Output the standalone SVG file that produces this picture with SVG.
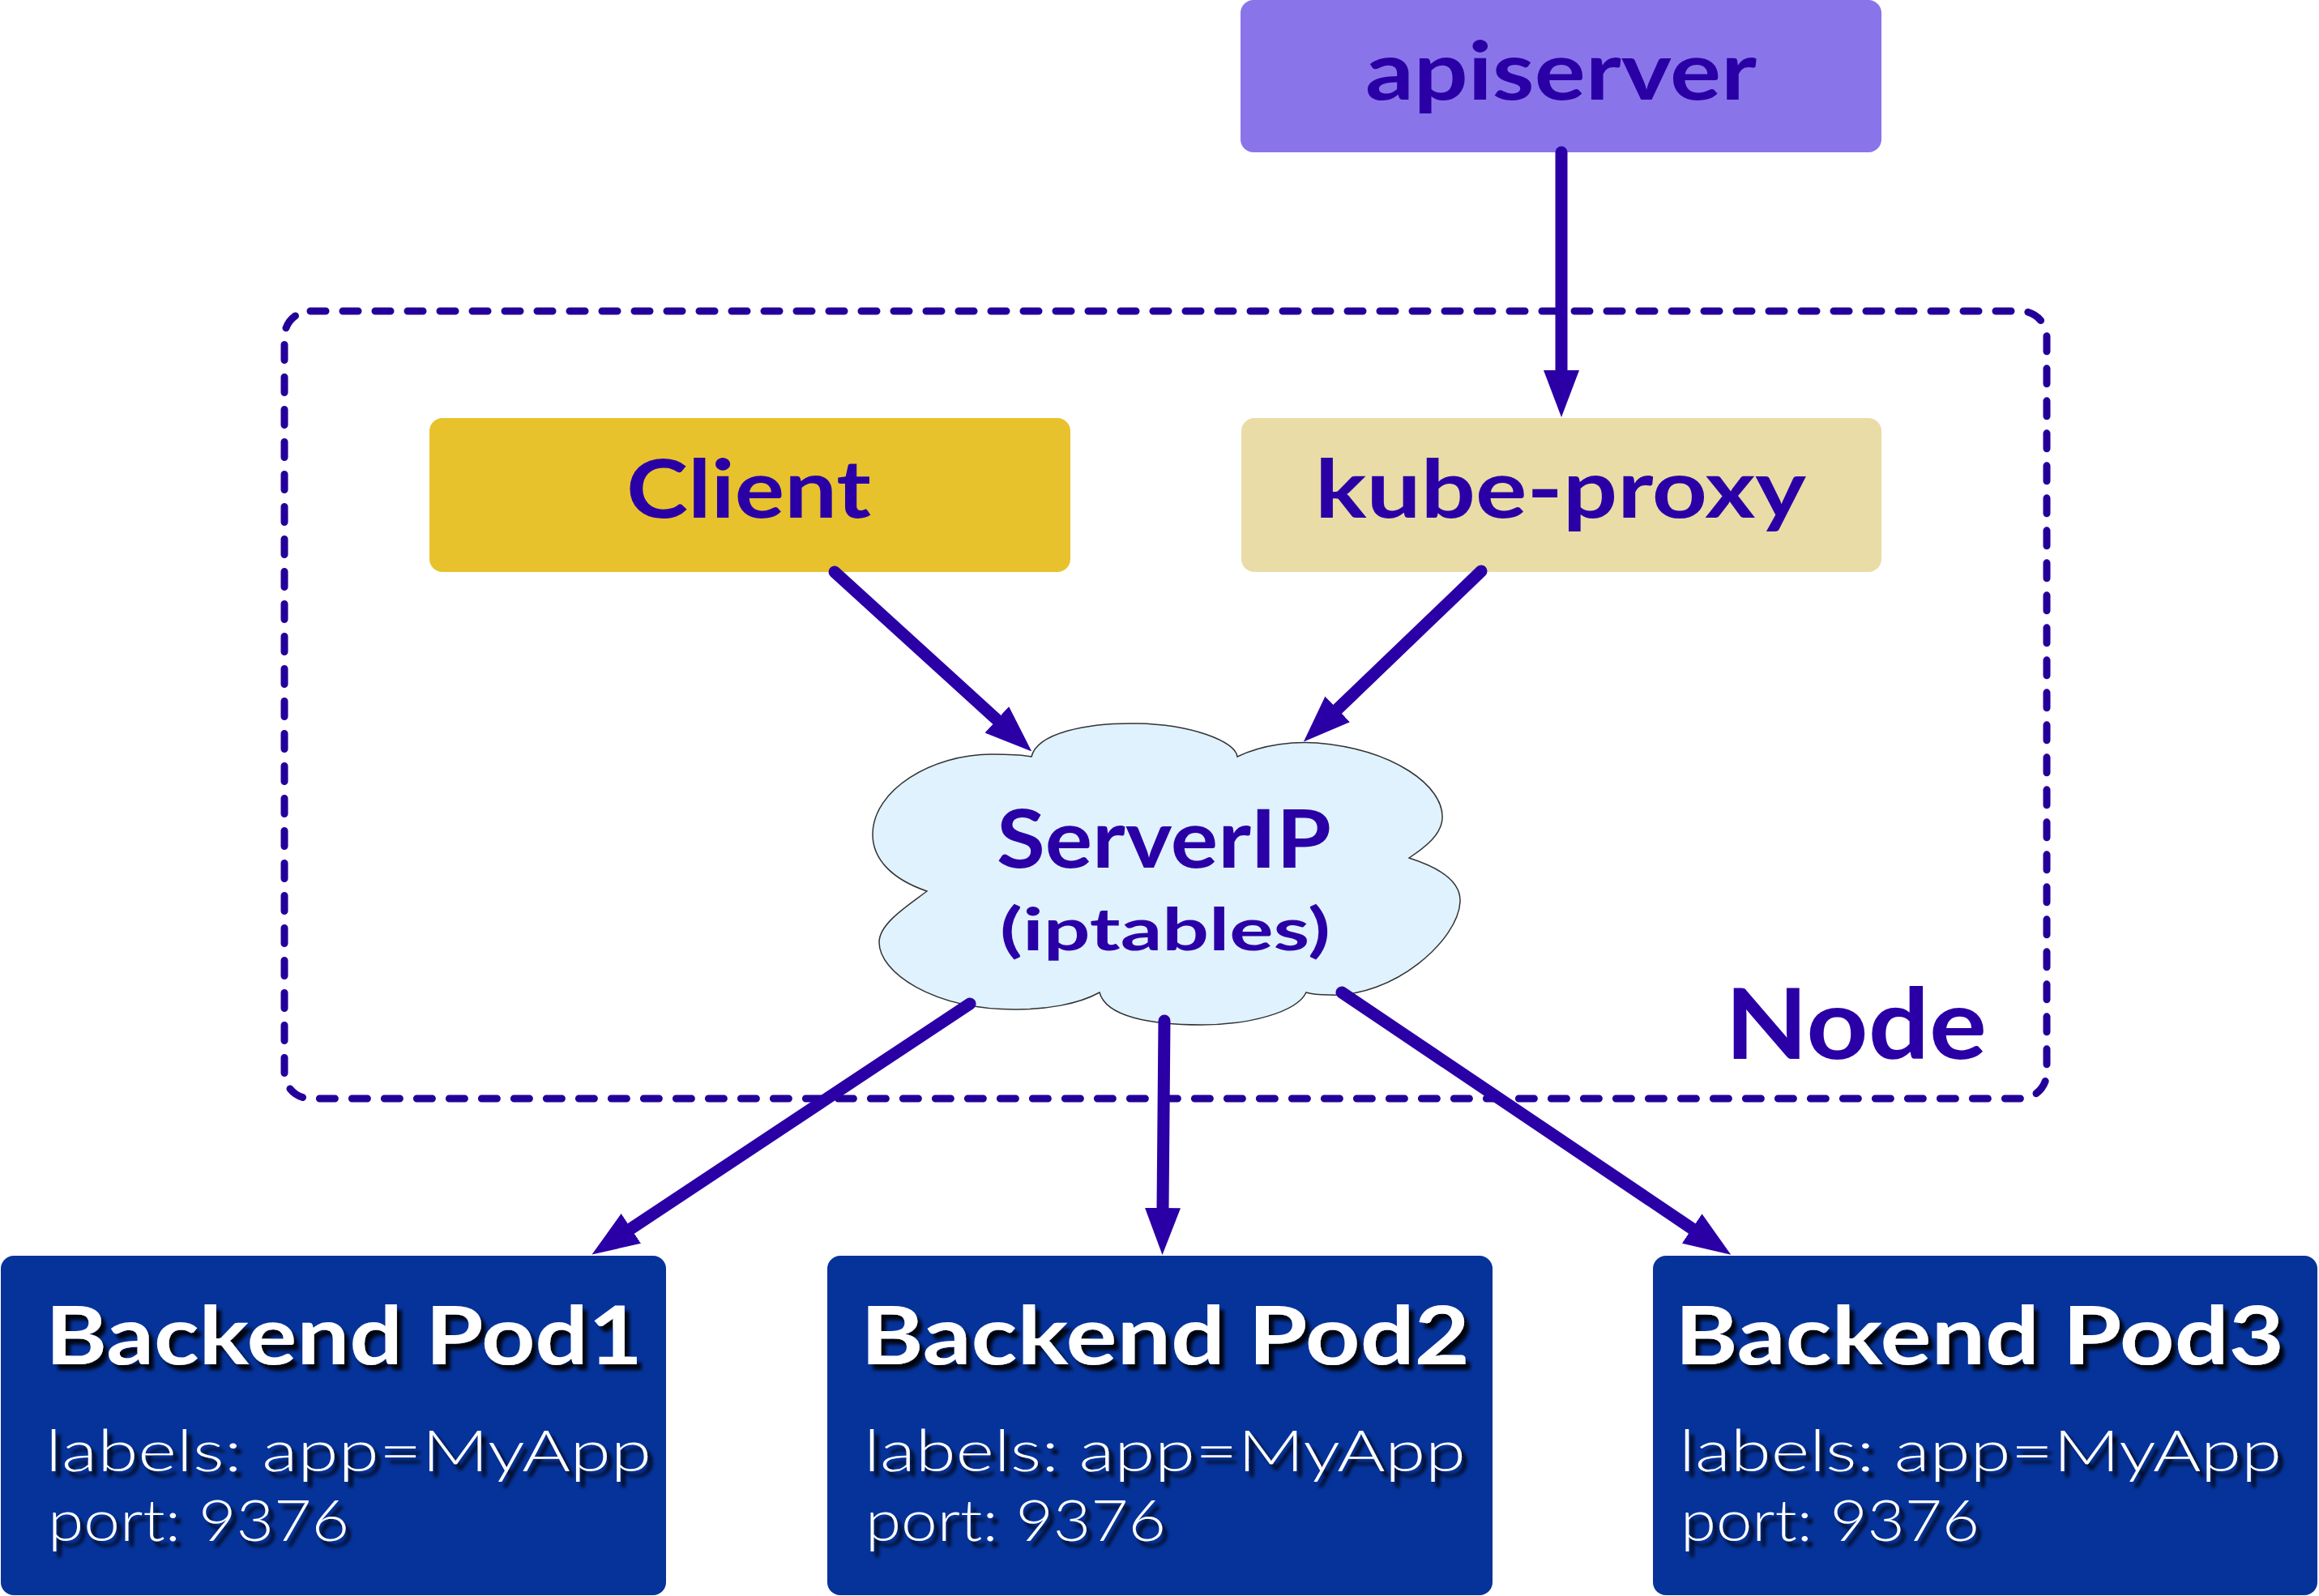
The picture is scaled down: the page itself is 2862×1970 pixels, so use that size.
<svg xmlns="http://www.w3.org/2000/svg" width="2862" height="1970" viewBox="0 0 2862 1970">
  <style>
    .lbl { font-family: "Lato", "DejaVu Sans", sans-serif; font-weight: bold; fill: #2a00a6; }
    .pt { font-family: "Lato", "DejaVu Sans", sans-serif; font-weight: bold; fill: #ffffff; font-size: 100px; }
    .pl { font-family: "Lato", "DejaVu Sans", sans-serif; font-weight: 300; fill: #ffffff; font-size: 70px; }
    .pod { fill: #06339a; }
    .conn { stroke: #2a00a6; stroke-width: 15; fill: none; stroke-linecap: round; marker-end: url(#ah); }
  </style>
  <defs>
    <marker id="ah" markerUnits="userSpaceOnUse" viewBox="0 0 58 44" markerWidth="58" markerHeight="44" refX="1" refY="22" orient="auto">
      <path d="M0,0 L58,22 L0,44 Z" fill="#2a00a6"/>
    </marker>
    <filter id="sh" x="-10%" y="-20%" width="120%" height="150%">
      <feDropShadow dx="6" dy="7" stdDeviation="2" flood-color="#000000" flood-opacity="0.9"/>
    </filter>
  </defs>
  <rect width="2862" height="1970" fill="#ffffff"/>

  <g id="node-frame">
    <rect x="351" y="384" width="2175" height="972" rx="32" fill="none" stroke="#24009a" stroke-width="9" stroke-dasharray="19 21" stroke-linecap="round"/>
    <text class="lbl" x="2129" y="1307" font-size="120" textLength="323" lengthAdjust="spacingAndGlyphs">Node</text>
  </g>

  <g id="apiserver">
    <rect x="1531" y="0" width="791" height="188" rx="16" fill="#8a74ea"/>
    <text class="lbl" x="1685" y="123" font-size="100" textLength="483" lengthAdjust="spacingAndGlyphs">apiserver</text>
  </g>

  <g id="client">
    <rect x="530" y="516" width="791" height="190" rx="16" fill="#e8c22c"/>
    <text class="lbl" x="773" y="639" font-size="100" textLength="302" lengthAdjust="spacingAndGlyphs">Client</text>
  </g>

  <g id="kube-proxy">
    <rect x="1532" y="516" width="790" height="190" rx="16" fill="#eadca6"/>
    <text class="lbl" x="1623" y="639" font-size="100" textLength="606" lengthAdjust="spacingAndGlyphs">kube-proxy</text>
  </g>

  <g id="serverip">
    <path d="M1273,934 C1280,905 1340,892 1403,893 C1470,894 1525,915 1527,934 C1560,918 1600,915 1625,917 C1720,925 1782,970 1780,1010 C1779,1030 1760,1045 1739,1059 C1780,1072 1803,1090 1802,1113 C1800,1160 1720,1232 1640,1228 C1625,1228 1615,1226 1612,1225 C1600,1250 1540,1265 1483,1265 C1420,1265 1365,1255 1357,1225 C1330,1240 1290,1246 1254,1246 C1150,1246 1085,1200 1085,1163 C1085,1140 1120,1118 1144,1100 C1100,1085 1077,1060 1077,1030 C1077,975 1150,931 1224,931 C1245,931 1262,932 1273,934 Z" fill="#dff2fd" stroke="#333333" stroke-width="1.5"/>
    <text class="lbl" x="1230" y="1071" font-size="100" textLength="413" lengthAdjust="spacingAndGlyphs">ServerIP</text>
    <text class="lbl" x="1234" y="1173" font-size="72" textLength="408" lengthAdjust="spacingAndGlyphs">(iptables)</text>
  </g>

  <g id="pod1">
    <rect class="pod" x="1" y="1550" width="821" height="419" rx="16"/>
    <g filter="url(#sh)">
      <text class="pt" x="56" y="1684" textLength="737" lengthAdjust="spacingAndGlyphs">Backend Pod1</text>
      <text class="pl" x="56" y="1816" textLength="748" lengthAdjust="spacingAndGlyphs">labels: app=MyApp</text>
      <text class="pl" x="59" y="1902" textLength="372" lengthAdjust="spacingAndGlyphs">port: 9376</text>
    </g>
  </g>

  <g id="pod2">
    <rect class="pod" x="1021" y="1550" width="821" height="419" rx="16"/>
    <g filter="url(#sh)">
      <text class="pt" x="1062" y="1684" textLength="752" lengthAdjust="spacingAndGlyphs">Backend Pod2</text>
      <text class="pl" x="1066" y="1816" textLength="743" lengthAdjust="spacingAndGlyphs">labels: app=MyApp</text>
      <text class="pl" x="1068" y="1902" textLength="371" lengthAdjust="spacingAndGlyphs">port: 9376</text>
    </g>
  </g>

  <g id="pod3">
    <rect class="pod" x="2040" y="1550" width="820" height="419" rx="16"/>
    <g filter="url(#sh)">
      <text class="pt" x="2067" y="1684" textLength="752" lengthAdjust="spacingAndGlyphs">Backend Pod3</text>
      <text class="pl" x="2072" y="1816" textLength="744" lengthAdjust="spacingAndGlyphs">labels: app=MyApp</text>
      <text class="pl" x="2074" y="1902" textLength="369" lengthAdjust="spacingAndGlyphs">port: 9376</text>
    </g>
  </g>

  <g id="connectors">
    <path class="conn" d="M1927,188 L1927,458"/>
    <path class="conn" d="M1030,706 L1231,889"/>
    <path class="conn" d="M1828,705 L1650,876"/>
    <path class="conn" d="M1197,1239 L778,1517"/>
    <path class="conn" d="M1437,1260 L1435,1492"/>
    <path class="conn" d="M1656,1225 L2089,1517"/>
  </g>
</svg>
